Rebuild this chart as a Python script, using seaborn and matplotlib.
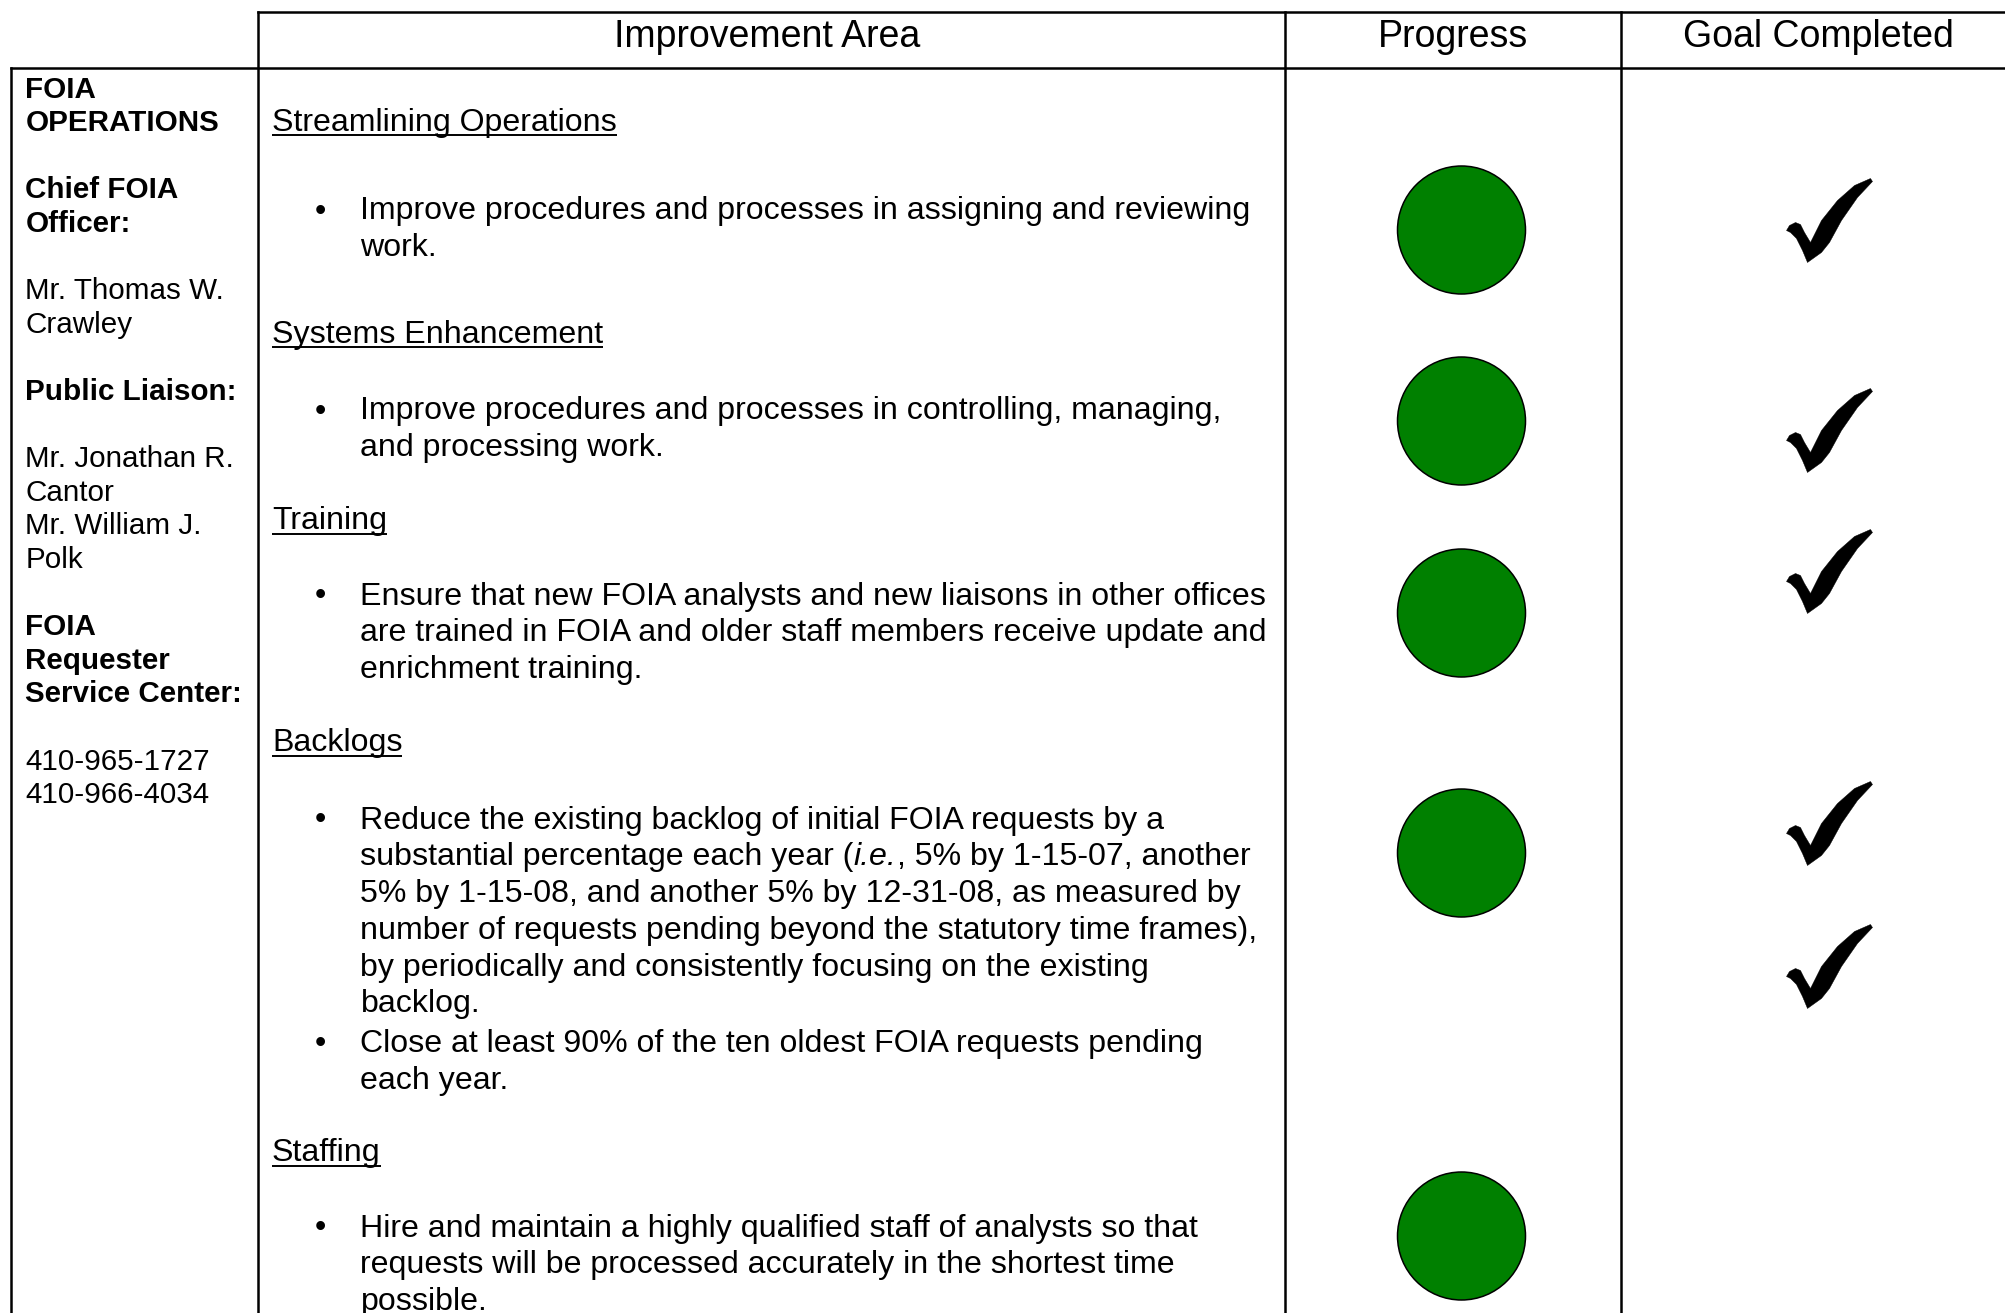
import numpy as np
import pandas as pd
import seaborn as sns
from matplotlib import pyplot as plt
from matplotlib.path import Path

# ---- data ----
HEADERS = ["Improvement Area", "Progress", "Goal Completed"]

# left column: (text, bold); empty string = blank line
CONTACT_LINES = [
    ("FOIA", True), ("OPERATIONS", True), ("", False),
    ("Chief FOIA", True), ("Officer:", True), ("", False),
    ("Mr. Thomas W.", False), ("Crawley", False), ("", False),
    ("Public Liaison:", True), ("", False),
    ("Mr. Jonathan R.", False), ("Cantor", False),
    ("Mr. William J.", False), ("Polk", False), ("", False),
    ("FOIA", True), ("Requester", True), ("Service Center:", True), ("", False),
    ("410-965-1727", False), ("410-966-4034", False),
]

AREAS = ["Streamlining Operations", "Systems Enhancement", "Training",
         "Backlogs", "Staffing"]

# text between *...* is italic
AREA_BULLETS = [
    [["Improve procedures and processes in assigning and reviewing",
      "work."]],
    [["Improve procedures and processes in controlling, managing,",
      "and processing work."]],
    [["Ensure that new FOIA analysts and new liaisons in other offices",
      "are trained in FOIA and older staff members receive update and",
      "enrichment training."]],
    [["Reduce the existing backlog of initial FOIA requests by a",
      "substantial percentage each year (*i.e.*, 5% by 1-15-07, another",
      "5% by 1-15-08, and another 5% by 12-31-08, as measured by",
      "number of requests pending beyond the statutory time frames),",
      "by periodically and consistently focusing on the existing",
      "backlog."],
     ["Close at least 90% of the ten oldest FOIA requests pending",
      "each year."]],
    [["Hire and maintain a highly qualified staff of analysts so that",
      "requests will be processed accurately in the shortest time",
      "possible."]],
]

PROGRESS = ["complete", "complete", "complete", "complete", "complete"]
GOAL_COMPLETED = [True, True, True, True, True]

# ---- layout (pixels, figure is 2005x1313 at dpi 100) ----
W, H = 2005, 1313
COL_X = [11.5, 258, 1285, 1621]
HEAD_TOP, HEAD_BOT = 11.5, 68
HEADER_CX = [767, 1453, 1818]
HEADER_BASE = 47

LEFT_X, LEFT_Y0, LEFT_PITCH = 25.5, 97.5, 33.6
AREA_X, BULLET_X, TEXT_X = 272, 320, 360.5
AREA_Y = [130.5, 342.5, 529.5, 751.5, 1161.5]
FIRST_GAP = [89, 77, 75, 77, 75]
PITCH, BULLET_EXTRA = 36.8, 3.2

CIRCLE_X, CIRCLE_Y = 1461.5, [230, 421, 613, 853, 1236]
CHECK_X, CHECK_Y = 1829, [220, 430, 571, 823, 966]

FS_HEAD, FS_LEFT, FS_BODY = 27.0, 21.3, 23.1
GREEN = "#008000"

sns.set_theme(style="white")
plt.rcParams['font.family'] = ['Liberation Sans', 'DejaVu Sans']

fig = plt.figure(figsize=(W / 100, H / 100), dpi=100)
ax = fig.add_axes([0, 0, 1, 1])
renderer = fig.canvas.get_renderer()

# table rules
line_kw = dict(color='black', lw=1.8, solid_capstyle='projecting')
ax.plot([COL_X[1], W], [HEAD_TOP, HEAD_TOP], **line_kw)
ax.plot([COL_X[0], W], [HEAD_BOT, HEAD_BOT], **line_kw)
ax.plot([COL_X[0], COL_X[0]], [HEAD_BOT, H], **line_kw)
for x in COL_X[1:]:
    ax.plot([x, x], [HEAD_TOP, H], **line_kw)

ax.set_xlim(0, W)
ax.set_ylim(H, 0)

for label, cx in zip(HEADERS, HEADER_CX):
    ax.text(cx, HEADER_BASE, label, ha='center', va='baseline',
            fontsize=FS_HEAD, color='black')

# left column
for i, (txt, bold) in enumerate(CONTACT_LINES):
    if txt:
        ax.text(LEFT_X, LEFT_Y0 + i * LEFT_PITCH, txt, va='baseline',
                fontsize=FS_LEFT, fontweight='bold' if bold else 'normal',
                color='black')


def draw_runs(x, y, line):
    # alternate normal / italic pieces split on '*'
    for k, piece in enumerate(line.split('*')):
        if not piece:
            continue
        t = ax.text(x, y, piece, va='baseline', fontsize=FS_BODY,
                    fontstyle='italic' if k % 2 else 'normal', color='black')
        x += t.get_window_extent(renderer=renderer).width


# improvement areas
for area, bullets, y_head, gap in zip(AREAS, AREA_BULLETS, AREA_Y, FIRST_GAP):
    t = ax.text(AREA_X, y_head, area, va='baseline', fontsize=FS_BODY,
                color='black')
    w = t.get_window_extent(renderer=renderer).width
    ax.plot([AREA_X, AREA_X + w], [y_head + 4, y_head + 4],
            color='black', lw=1.4, solid_capstyle='butt')
    y = y_head + gap
    for b, lines in enumerate(bullets):
        if b:
            y += BULLET_EXTRA
        ax.text(BULLET_X, y, "\u2022", ha='center', va='baseline',
                fontsize=FS_BODY, color='black')
        for line in lines:
            draw_runs(TEXT_X, y, line)
            y += PITCH

# progress circles
prog = pd.DataFrame({'x': CIRCLE_X, 'y': CIRCLE_Y, 'status': PROGRESS})
sns.scatterplot(data=prog, x='x', y='y', hue='status',
                palette={'complete': GREEN}, marker='o', s=8493,
                edgecolor='black', linewidth=1.1, legend=False, ax=ax,
                zorder=3)

# check marks (calligraphic tick as a custom marker, y up)
tick = np.array([
    (-43, -10), (-40, -5), (-34, -2), (-29, -4), (-25, -12), (-19, -22),
    (-8, 0), (8, 20), (25, 35), (41, 42), (43, 39), (28, 23), (12, 0),
    (0, -22), (-8, -32), (-22, -42), (-27, -30), (-33, -18), (-39, -12),
    (-43, -10)], dtype=float)
codes = [Path.MOVETO] + [Path.LINETO] * (len(tick) - 2) + [Path.CLOSEPOLY]
tick_path = Path(tick, codes)

done = pd.DataFrame({'x': CHECK_X, 'y': CHECK_Y, 'done': GOAL_COMPLETED})
done = done[done['done']]
sns.scatterplot(data=done, x='x', y='y', marker=tick_path, s=3834,
                color='black', edgecolor='black', linewidth=0.3,
                legend=False, ax=ax, zorder=3)

ax.set_xlim(0, W)
ax.set_ylim(H, 0)
ax.axis('off')

fig.savefig('out.png', dpi=100, facecolor='white')
